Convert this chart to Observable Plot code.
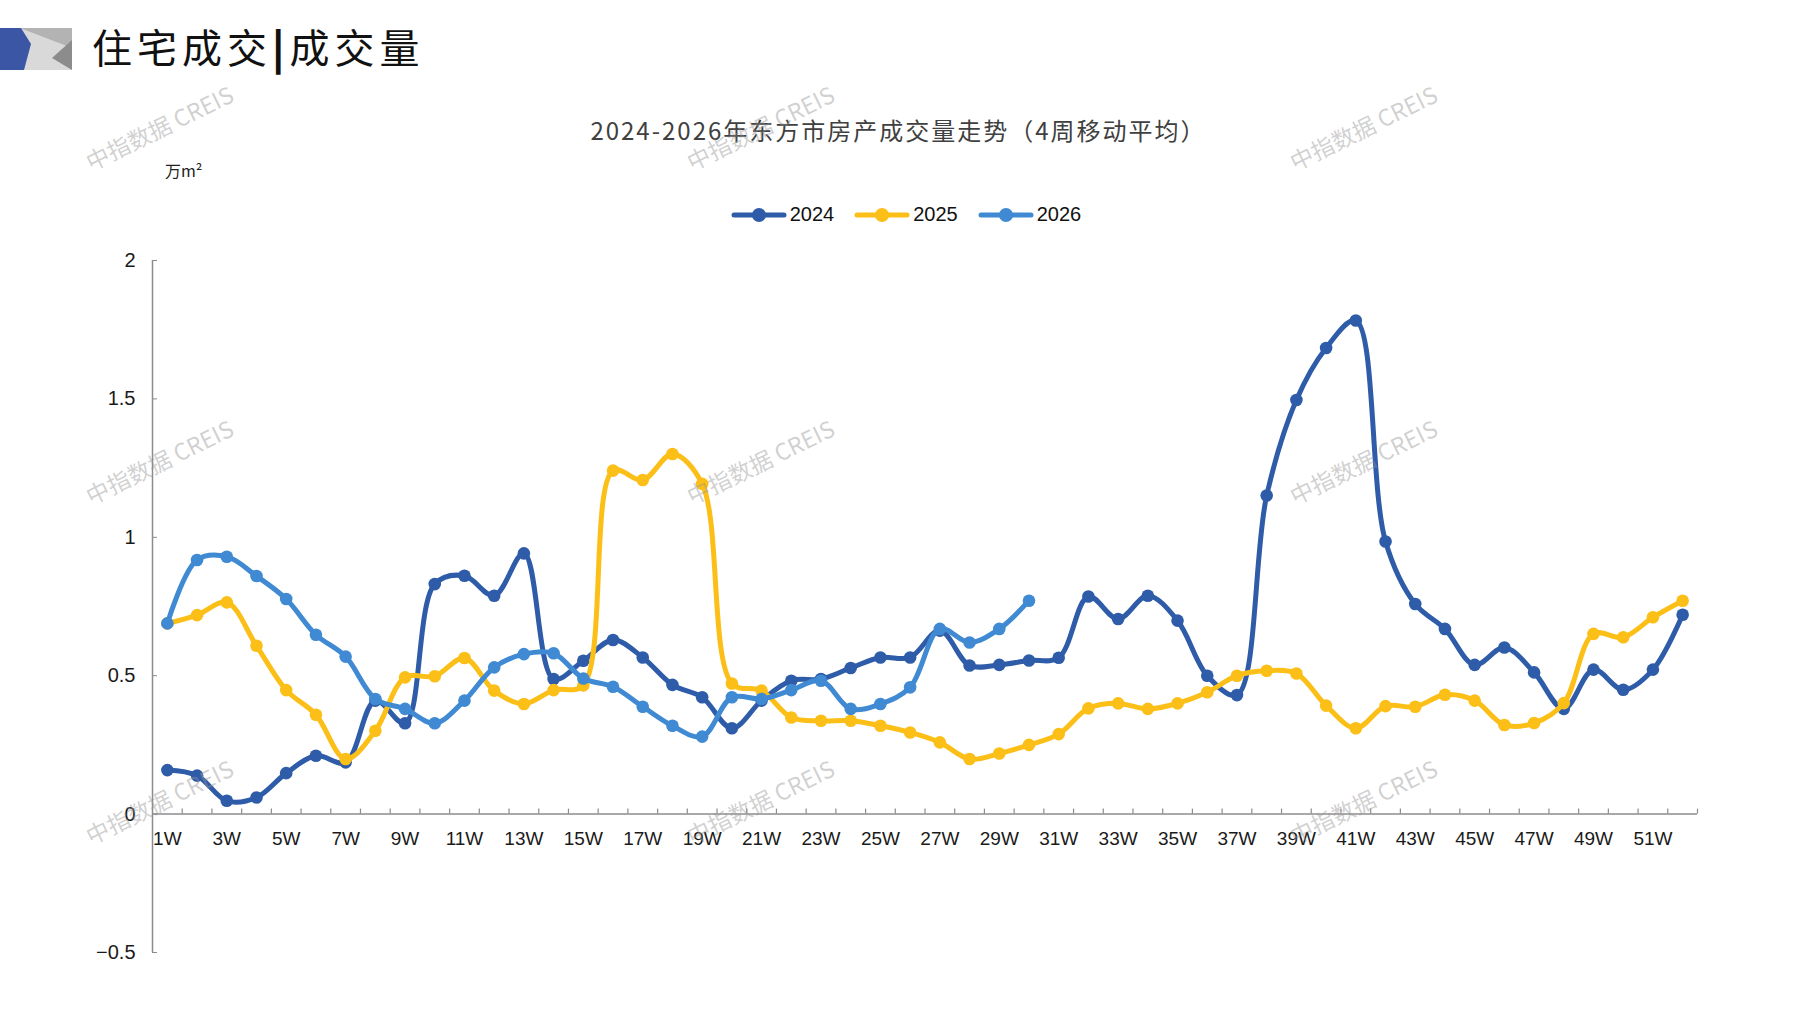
<!DOCTYPE html>
<html>
<head>
<meta charset="utf-8">
<script src="https://cdn.jsdelivr.net/npm/d3@7"></script>
<script src="https://cdn.jsdelivr.net/npm/@observablehq/plot@0.6"></script>
<style>
  body { margin: 0; background: #fff; }
  #page { position: relative; width: 1797px; height: 1010px; overflow: hidden; background: #fff; font-family: "Noto Sans CJK SC", sans-serif; }
  #chart { position: absolute; left: 0; top: 0; }
  .abs { position: absolute; white-space: nowrap; }
  #head { left: 92px; top: 22px; font-size: 40px; letter-spacing: 5px; color: #111; line-height: 48px; }
  #head b { font-weight: 900; }
  #title { left: 0; width: 1797px; top: 113px; text-align: center; font-size: 24px; letter-spacing: 2px; color: #404040; line-height: 34px; }
  #unit { left: 165px; top: 158px; font-size: 16px; color: #222; }
  #legend { left: 0; width: 1812px; top: 203px; display: flex; justify-content: center; gap: 20px; font-family: "Liberation Sans", sans-serif; font-size: 20px; color: #111; }
  #legend span { display: flex; align-items: center; gap: 3px; }
  .wm { font-size: 23px; color: rgba(150,150,150,0.45); transform: translate(-50%, -50%) rotate(-26deg); pointer-events: none; }
</style>
</head>
<body>
<div id="page">
  <div id="chart"></div>
  <svg class="abs" style="left:0;top:28px" width="72" height="42">
    <polygon points="0,0 72,0 72,42 0,42" fill="#d9d9d9"/>
    <polygon points="20,0 72,0 72,20" fill="#b3b3b3"/>
    <polygon points="72,12 72,42 52,30" fill="#8c8c8c"/>
    <polygon points="0,0 21,0 31,16 24,42 0,42" fill="#3a56a5"/>
  </svg>
  <div id="head" class="abs">住宅成交<b>|</b>成交量</div>
  <div id="title" class="abs">2024-2026年东方市房产成交量走势（4周移动平均）</div>
  <div id="unit" class="abs">万m²</div>
  <div id="legend" class="abs"></div>
</div>
<script>
const weeks = d3.range(1, 53);
const years = ["2024", "2025", "2026"];
const colors = ["#2f5ca8", "#fbbf17", "#3f8ad2"];

const v2024 = [0.159, 0.139, 0.048, 0.060, 0.148, 0.211, 0.187, 0.41, 0.328, 0.831,
  0.861, 0.789, 0.942, 0.488, 0.554, 0.629, 0.566, 0.467, 0.422, 0.310,
  0.410, 0.482, 0.488, 0.528, 0.566, 0.566, 0.663, 0.537, 0.539, 0.555,
  0.565, 0.786, 0.705, 0.789, 0.699, 0.500, 0.430, 1.151, 1.496, 1.684,
  1.783, 0.985, 0.759, 0.669, 0.539, 0.602, 0.512, 0.380, 0.522, 0.449,
  0.522, 0.720];
const v2025 = [0.689, 0.719, 0.765, 0.608, 0.448, 0.359, 0.199, 0.301, 0.494, 0.498,
  0.564, 0.446, 0.398, 0.448, 0.465, 1.241, 1.207, 1.301, 1.193, 0.472,
  0.446, 0.349, 0.337, 0.337, 0.319, 0.295, 0.259, 0.199, 0.219, 0.250,
  0.289, 0.382, 0.400, 0.380, 0.400, 0.440, 0.500, 0.518, 0.508, 0.392,
  0.310, 0.390, 0.388, 0.431, 0.410, 0.322, 0.329, 0.401, 0.651, 0.639,
  0.711, 0.771];
const v2026 = [0.689, 0.918, 0.930, 0.860, 0.777, 0.648, 0.569, 0.416, 0.380, 0.328,
  0.410, 0.530, 0.578, 0.581, 0.490, 0.460, 0.388, 0.319, 0.280, 0.422,
  0.416, 0.448, 0.482, 0.380, 0.398, 0.458, 0.669, 0.620, 0.669, 0.771];

const yTicks = [-0.5, 0, 0.5, 1, 1.5, 2];
const weekLabels = d3.range(1, 53, 2);
const boundaries = d3.range(1.5, 53.5, 1);

const series = {"2024": v2024, "2025": v2025, "2026": v2026};
const rows = years.flatMap(year => series[year].map((value, i) => ({year, week: weeks[i], value})));

// each year: line then markers, like the original drawing order
const seriesMarks = years.flatMap(year => {
  const d = rows.filter(r => r.year === year);
  return [
    Plot.line(d, {x: "week", y: "value", stroke: "year", strokeWidth: 5, curve: "catmull-rom"}),
    Plot.dot(d, {x: "week", y: "value", fill: "year", r: 6.3})
  ];
});

const plot = Plot.plot({
  width: 1797,
  height: 1010,
  marginLeft: 152,
  marginRight: 100,
  marginTop: 260,
  marginBottom: 58,
  style: {background: "transparent", fontFamily: "Liberation Sans, sans-serif", fontSize: "20px"},
  x: {type: "linear", domain: [0.5, 52.5], axis: null},
  y: {domain: [-0.5, 2]},
  color: {domain: years, range: colors},
  marks: [
    Plot.ruleX([0.5], {stroke: "#8c8c8c", strokeWidth: 1.5}),
    Plot.axisY({ticks: yTicks, tickSize: -5, tickPadding: 22, stroke: "#8c8c8c", fill: "#1a1a1a", fontSize: 20, label: null,
      tickFormat: d => d < 0 ? "−" + Math.abs(d) : String(d)}),
    Plot.ruleY([0], {x1: 0.5, x2: 52.5, stroke: "#8c8c8c", strokeWidth: 1.5}),
    Plot.ruleX(boundaries, {x: d => d, y1: 0, y2: 0.018, stroke: "#8c8c8c", strokeWidth: 1.2}),
    Plot.text(weekLabels, {x: d => d, y: 0, text: d => d + "W", dy: 25, fontSize: 19, fontFamily: "Liberation Sans Narrow, Liberation Sans, sans-serif", fill: "#1a1a1a"}),
    ...seriesMarks
  ]
});
document.querySelector("#chart").append(plot);

// legend
const legend = document.querySelector("#legend");
years.forEach((year, i) => {
  const item = document.createElement("span");
  item.innerHTML = `<svg width="56" height="16"><line x1="3" y1="8" x2="53" y2="8" stroke="${colors[i]}" stroke-width="5" stroke-linecap="round"/><circle cx="28" cy="8" r="7" fill="${colors[i]}"/></svg>${year}`;
  legend.append(item);
});

// watermarks
const wmX = [159, 760, 1363];
const wmY = [127, 461, 801];
const page = document.querySelector("#page");
wmY.forEach(y => wmX.forEach(x => {
  const w = document.createElement("div");
  w.className = "abs wm";
  w.style.left = x + "px";
  w.style.top = y + "px";
  w.textContent = "中指数据 CREIS";
  page.append(w);
}));
</script>
</body>
</html>
